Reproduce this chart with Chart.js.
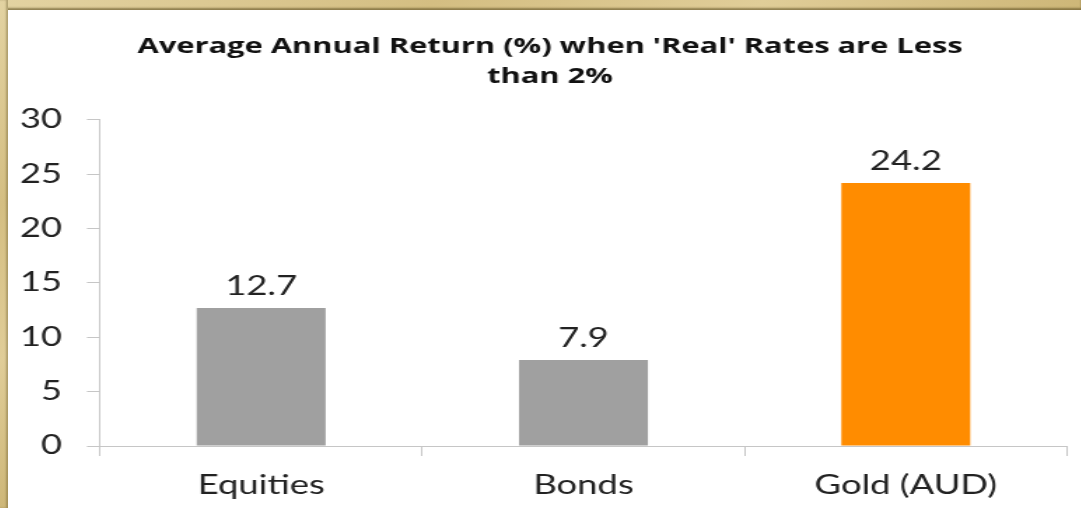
<!DOCTYPE html>
<html>
<head>
<meta charset="utf-8">
<script src="https://cdn.jsdelivr.net/npm/chart.js@4.4.1/dist/chart.umd.min.js"></script>
<style>
  html, body { margin: 0; padding: 0; overflow: hidden; background: #fff; scrollbar-width: none; }
  ::-webkit-scrollbar { display: none; }
  .edge {
    position: absolute;
    background: linear-gradient(135deg, #e3d3a2 0%, #d4be82 40%, #e0cd98 70%, #cdb677 100%);
  }
  #edgeTop { left: 0; top: 0; width: 1081px; height: 10px; box-shadow: inset 0 -2px 2px rgba(90, 75, 30, 0.6); }
  #edgeLeft { left: 0; top: 0; width: 8px; height: 508px; box-shadow: inset -2px 0 2px rgba(90, 75, 30, 0.35); }
  /* the source picture is stretched sideways, so the chart is too */
  #wrap {
    position: absolute; left: 8px; top: 10px; width: 767px; height: 498px;
    transform: scaleX(1.4); transform-origin: 0 0;
  }
</style>
</head>
<body>
<div class="edge" id="edgeTop"></div>
<div class="edge" id="edgeLeft"></div>
<div id="wrap"><canvas id="chart" width="767" height="498"></canvas></div>
<script>
// data
const categories = ["Equities", "Bonds", "Gold (AUD)"];
const returns = [12.7, 7.9, 24.2];
const yTicks = [0, 5, 10, 15, 20, 25, 30];

const barColors = ["#a0a0a0", "#a0a0a0", "#ff8c00"];
const axisColor = "#c6c6c6";
const FONT = "Lato, 'Open Sans', sans-serif";

// value labels above each bar
const valueLabels = {
  id: "valueLabels",
  afterDatasetsDraw(chart) {
    const ctx = chart.ctx;
    const meta = chart.getDatasetMeta(0);
    ctx.save();
    ctx.font = "26px " + FONT;
    ctx.fillStyle = "#222";
    ctx.textAlign = "center";
    ctx.textBaseline = "alphabetic";
    meta.data.forEach((bar, i) => {
      ctx.fillText(returns[i].toFixed(1), bar.x, bar.y - 13);
    });
    ctx.restore();
  },
};

// title sits a little right of the canvas centre in the original
const nudgeTitle = {
  id: "nudgeTitle",
  afterLayout(chart) {
    if (chart.titleBlock) {
      chart.titleBlock.left += 9;
      chart.titleBlock.right += 9;
    }
  },
};

const ctx = document.getElementById("chart").getContext("2d");
new Chart(ctx, {
  type: "bar",
  data: {
    labels: categories,
    datasets: [
      {
        data: returns,
        backgroundColor: barColors,
        borderWidth: 0,
        barPercentage: 0.4,
        categoryPercentage: 1,
      },
    ],
  },
  options: {
    responsive: false,
    animation: false,
    devicePixelRatio: 1,
    layout: { padding: { left: 0, right: 10.6, top: 0, bottom: 0 } },
    plugins: {
      legend: { display: false },
      tooltip: { enabled: false },
      title: {
        display: true,
        text: ["Average Annual Return (%) when 'Real' Rates are Less", "than 2%"],
        color: "#111",
        font: { family: "'Open Sans', Lato, sans-serif", size: 22, weight: "bold", lineHeight: 1.36 },
        padding: { top: 22, bottom: 28 },
      },
    },
    scales: {
      x: {
        offset: true,
        grid: { offset: true, drawOnChartArea: false, tickLength: 10, color: axisColor },
        border: { color: axisColor },
        ticks: { color: "#222", font: { family: FONT, size: 26 }, padding: 14 },
        afterFit(scale) { scale.height = 62; },
      },
      y: {
        min: 0,
        max: 30,
        afterBuildTicks(scale) { scale.ticks = yTicks.map((v) => ({ value: v })); },
        grid: { drawOnChartArea: false, tickLength: 9.3, color: axisColor },
        border: { color: axisColor },
        ticks: { color: "#222", font: { family: FONT, size: 26 }, padding: 17.8 },
        afterFit(scale) { scale.width = 65.7; },
      },
    },
  },
  plugins: [valueLabels, nudgeTitle],
});
</script>
</body>
</html>
